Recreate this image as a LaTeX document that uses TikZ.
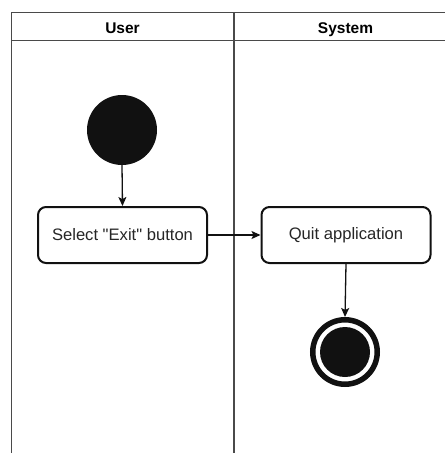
\documentclass[tikz,border=0pt]{standalone}
\usepackage{fontspec}
\setmainfont{Liberation Sans}[Ligatures=TeXOff]
\usetikzlibrary{arrows.meta}

\definecolor{laneline}{HTML}{4A4A4A}
\definecolor{ink}{HTML}{111111}

\tikzset{
  lane/.style={draw=laneline, line width=1.5pt},
  lanehead/.style={font=\bfseries\fontsize{15.5}{19}\selectfont, inner sep=0pt, anchor=base},
  actbox/.style={draw=ink, line width=2pt, rounded corners=8pt,
    minimum width=169pt, minimum height=56pt, inner sep=0pt,
    font=\fontsize{16.6}{20}\selectfont, text=black!85},
  startdot/.style={circle, fill=ink, minimum size=70pt, inner sep=0pt},
  endring/.style={circle, draw=ink, line width=5.5pt, minimum size=64.5pt, inner sep=0pt},
  flow/.style={draw=ink, line width=1.3pt, -{Stealth[length=9pt,width=8pt,inset=2pt]}}
}

\begin{document}
\begin{tikzpicture}[x=1pt, y=-1pt]
  \useasboundingbox (0,0) rectangle (445,453);

  % swimlane frame
  \draw[lane] (11.5,453) -- (11.5,12.5) -- (445,12.5);
  \draw[lane] (11.5,40.5) -- (445,40.5);
  \draw[lane] (234,12.5) -- (234,453);

  % lane titles
  \node[lanehead] (userhead) at (122.5,33) {User};
  \node[lanehead] (syshead) at (345.5,33) {System};

  % activity nodes
  \node[startdot] (start) at (122,130) {};
  \node[actbox] (select) at (122.5,235) {Select "Exit" button};
  \node[actbox] (quit) at (346,235) {Quit application};
  \node[endring] (finish) at (345,352) {};
  \fill[ink] (finish.center) circle (25);

  % control flow
  \draw[flow] (start.south) -- (select.north);
  \draw[flow] (select.east) -- (quit.west);
  \draw[flow] (quit.south) -- (finish.north);
\end{tikzpicture}
\end{document}
